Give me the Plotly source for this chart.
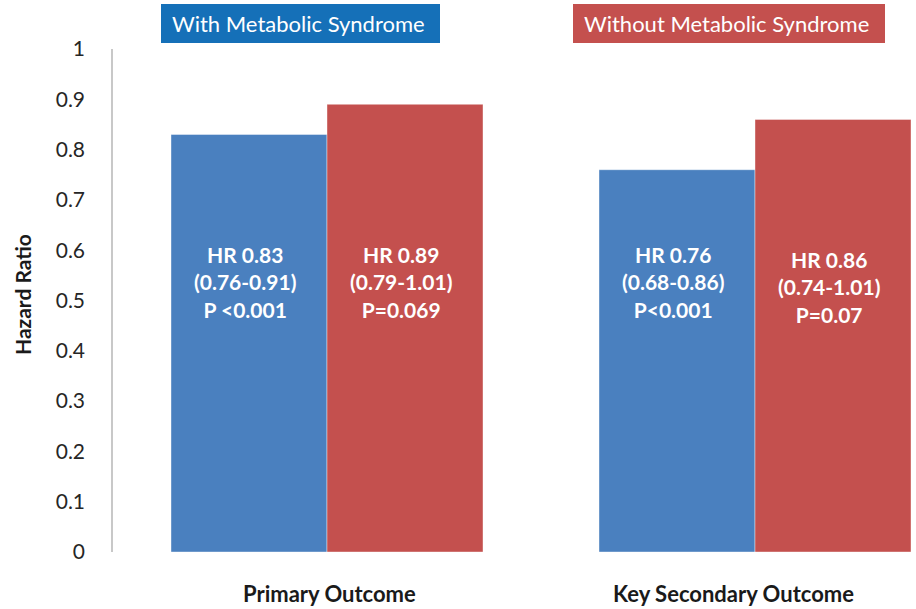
import plotly.graph_objects as go

# Outcomes on the x axis and hazard ratios per subgroup
outcomes = ["Primary Outcome", "Key Secondary Outcome"]
groups = ["With Metabolic Syndrome", "Without Metabolic Syndrome"]
hr_with = [0.83, 0.76]
hr_without = [0.89, 0.86]
ci_with = ["0.76-0.91", "0.68-0.86"]
ci_without = ["0.79-1.01", "0.74-1.01"]
p_with = ["P <0.001", "P<0.001"]
p_without = ["P=0.069", "P=0.07"]
y_ticks = [0, 0.1, 0.2, 0.3, 0.4, 0.5, 0.6, 0.7, 0.8, 0.9, 1]

BLUE = "#4A80BF"
RED = "#C4504E"
BLUE_BOX = "#1570B8"
FONT = "Lato, 'Open Sans', sans-serif"

W, H = 916, 609
L, R, T, B = 113, 0, 49, 57
PW, PH = W - L - R, H - T - B
BAND = 428  # pixel width of one category band


def px_x(px):
    return (px - L) / PW


def px_y(py):
    return (H - B - py) / PH


fig = go.Figure()
fig.add_trace(go.Bar(x=outcomes, y=hr_with, name=groups[0],
                     marker=dict(color=BLUE, line=dict(width=0.8, color="rgba(255,255,255,0.5)"))))
fig.add_trace(go.Bar(x=outcomes, y=hr_without, name=groups[1],
                     marker=dict(color=RED, line=dict(width=0.8, color="rgba(255,255,255,0.5)"))))

annotations = []
# In-bar labels: HR, confidence interval, p value
label_y = [(0.537, 0.537), (0.537, 0.527)]
bar_shift = (-82, 74)
for i, cat in enumerate(outcomes):
    for j, (hr, ci, p) in enumerate([(hr_with[i], ci_with[i], p_with[i]),
                                     (hr_without[i], ci_without[i], p_without[i])]):
        annotations.append(dict(
            x=cat, y=label_y[i][j], xref="x", yref="y",
            xshift=bar_shift[j],
            text=f"HR {hr:.2f}<br>({ci})<br>{p}",
            showarrow=False, align="center",
            font=dict(family=FONT, size=21, color="white", weight="bold"),
        ))

# Category labels below the bars
cat_shift = (2, -22)
for i, cat in enumerate(outcomes):
    annotations.append(dict(
        x=cat, y=0, xref="x", yref="y", xshift=cat_shift[i], yshift=-41,
        text=cat, showarrow=False, xanchor="center", yanchor="middle",
        font=dict(family=FONT, size=22, color="#1a1a1a", weight="bold"),
    ))

# Group key boxes across the top
boxes = [(161, 440, BLUE_BOX, groups[0]), (573, 885, RED, groups[1])]
shapes = []
for x0, x1, col, label in boxes:
    shapes.append(dict(type="rect", xref="paper", yref="paper",
                       x0=px_x(x0), x1=px_x(x1), y0=px_y(43), y1=px_y(4),
                       fillcolor=col, line=dict(width=0), layer="above"))
    annotations.append(dict(
        x=px_x(x0 + 9), y=px_y(23.5), xref="paper", yref="paper",
        xanchor="left", yanchor="middle", text=label, showarrow=False,
        font=dict(family=FONT, size=22, color="white"),
    ))

# Y-axis title
annotations.append(dict(
    x=px_x(22), y=px_y(295), xref="paper", yref="paper",
    text="Hazard Ratio", textangle=-90, showarrow=False,
    xanchor="center", yanchor="middle",
    font=dict(family=FONT, size=21, color="#1a1a1a", weight="bold"),
))

fig.update_layout(
    width=W, height=H,
    margin=dict(l=L, r=R, t=T, b=B, pad=0),
    paper_bgcolor="white", plot_bgcolor="white",
    barmode="group", bargap=116 / BAND, bargroupgap=0,
    showlegend=False,
    shapes=shapes, annotations=annotations,
    xaxis=dict(
        range=[-0.5, PW / BAND - 0.5], showgrid=False, zeroline=False,
        showline=False, ticks="", showticklabels=False,
    ),
    yaxis=dict(
        range=[0, 1], tickvals=y_ticks,
        ticktext=[f"{v:g}" for v in y_ticks],
        showgrid=False, zeroline=False,
        showline=True, linecolor="#C8C8C8", linewidth=1.5,
        ticks="", ticklabelstandoff=22,
        tickfont=dict(family=FONT, size=21, color="#262626"),
    ),
)

fig.write_html("out.html")
